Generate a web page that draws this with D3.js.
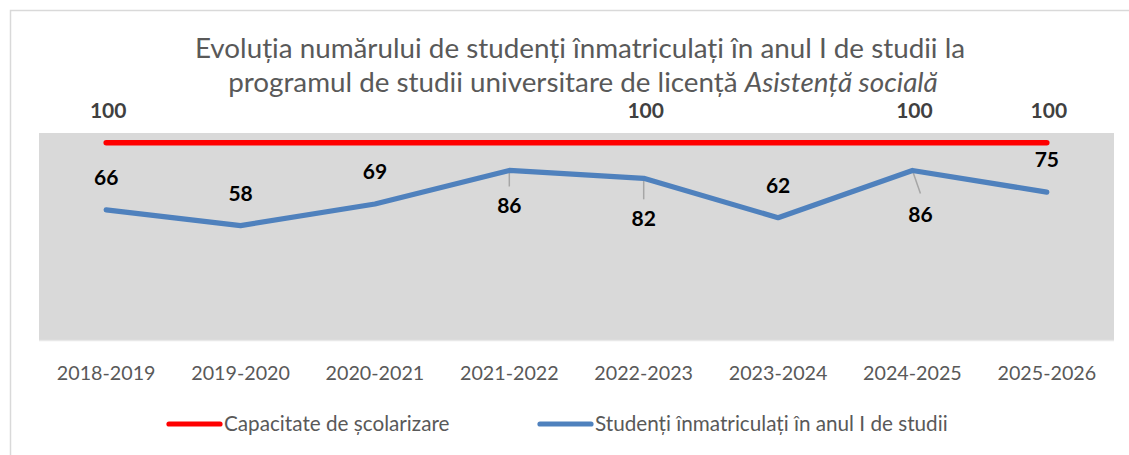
<!DOCTYPE html>
<html>
<head>
<meta charset="utf-8">
<script src="https://cdn.jsdelivr.net/npm/d3@7"></script>
<style>
  body { margin: 0; background: #fff; }
  svg { display: block; font-family: Lato, "Open Sans", sans-serif; }
</style>
</head>
<body>
<div id="chart"></div>
<script>
// Chart data
const years = ["2018-2019", "2019-2020", "2020-2021", "2021-2022", "2022-2023", "2023-2024", "2024-2025", "2025-2026"];
const capacity = [100, 100, 100, 100, 100, 100, 100, 100];
const enrolled = [66, 58, 69, 86, 82, 62, 86, 75];
// which capacity labels Excel shows
const capacityLabelShown = [true, false, false, false, true, false, true, true];
// label placement for enrolled series
const enrolledLabelPos = ["above", "above", "above", "below", "below2", "above", "belowRight", "above"];

const width = 1129, height = 455;
const plot = { left: 39, right: 1114, top: 133, bottom: 340 };

const svg = d3.select("#chart").append("svg")
  .attr("width", width)
  .attr("height", height);

// outer chart border
svg.append("path")
  .attr("d", `M10.5,${height} L10.5,10.5 L${width},10.5`)
  .attr("fill", "none")
  .attr("stroke", "#d9d9d9")
  .attr("stroke-width", 1.5);

// title
const title = svg.append("text")
  .attr("text-anchor", "middle")
  .attr("fill", "#595959")
  .style("font-size", "27.8px");
title.append("tspan").attr("x", 580).attr("y", 58)
  .text("Evoluția numărului de studenți înmatriculați în anul I de studii la");
const t2 = title.append("tspan").attr("x", 583).attr("y", 92);
t2.append("tspan").text("programul de studii universitare de licență ");
t2.append("tspan").style("font-style", "italic").text("Asistență socială");

const x = d3.scaleBand().domain(years).range([plot.left, plot.right]);
const y = d3.scaleLinear().domain([0, 105]).range([plot.bottom, plot.top]);
const cx = (d) => x(d) + x.bandwidth() / 2;

// plot area
svg.append("rect")
  .attr("x", plot.left).attr("y", plot.top)
  .attr("width", plot.right - plot.left).attr("height", plot.bottom - plot.top)
  .attr("fill", "#d9d9d9");

svg.append("line")
  .attr("x1", plot.left).attr("x2", plot.right)
  .attr("y1", plot.bottom + 0.5).attr("y2", plot.bottom + 0.5)
  .attr("stroke", "#e8e8e8").attr("stroke-width", 1.5);

// x axis
const xAxis = svg.append("g")
  .attr("transform", `translate(0,${plot.bottom})`)
  .call(d3.axisBottom(x).tickSize(0).tickPadding(26));
xAxis.select(".domain").remove();
xAxis.selectAll("text")
  .attr("fill", "#595959")
  .style("font-size", "19.7px")
  .style("font-family", "Lato, sans-serif");

const line = d3.line()
  .x((d, i) => cx(years[i]))
  .y((d) => y(d));

// leader lines (drawn under the series)
const leaders = svg.append("g").attr("stroke", "#a6a6a6").attr("stroke-width", 1.5);
enrolled.forEach((v, i) => {
  const pos = enrolledLabelPos[i];
  if (pos === "below" || pos === "below2" || pos === "belowRight") {
    const px = cx(years[i]), py = y(v);
    const len = pos === "below" ? 16 : pos === "below2" ? 21 : 23;
    const dx = pos === "belowRight" ? 8 : 0;
    leaders.append("line")
      .attr("x1", px).attr("y1", py)
      .attr("x2", px + dx).attr("y2", py + len);
  }
});

svg.append("path")
  .datum(capacity)
  .attr("d", line)
  .attr("fill", "none")
  .attr("stroke", "#ff0000")
  .attr("stroke-width", 5.5)
  .attr("stroke-linecap", "round")
  .attr("stroke-linejoin", "round");

svg.append("path")
  .datum(enrolled)
  .attr("d", line)
  .attr("fill", "none")
  .attr("stroke", "#4f81bd")
  .attr("stroke-width", 5.2)
  .attr("stroke-linecap", "round")
  .attr("stroke-linejoin", "round");

// data labels
svg.append("g").selectAll("text")
  .data(capacity.map((v, i) => ({ v, i })).filter((d) => capacityLabelShown[d.i]))
  .join("text")
  .attr("x", (d) => cx(years[d.i]) + 2)
  .attr("y", (d) => y(d.v) - 32)
  .attr("dy", "0.35em")
  .attr("text-anchor", "middle")
  .attr("fill", "#404040")
  .style("font-size", "21px")
  .style("font-weight", "bold")
  .text((d) => d.v);

const labelOffset = {
  above: [0, -32],
  below: [0, 35],
  below2: [0, 40],
  belowRight: [8, 44],
};
svg.append("g").selectAll("text")
  .data(enrolled.map((v, i) => ({ v, i })))
  .join("text")
  .attr("x", (d) => cx(years[d.i]) + labelOffset[enrolledLabelPos[d.i]][0])
  .attr("y", (d) => y(d.v) + labelOffset[enrolledLabelPos[d.i]][1])
  .attr("dy", "0.35em")
  .attr("text-anchor", "middle")
  .attr("fill", "#000")
  .style("font-size", "21px")
  .style("font-weight", "bold")
  .text((d) => d.v);

// legend
const legendItems = [
  { name: "Capacitate de școlarizare", color: "#ff0000", x: 169 },
  { name: "Studenți înmatriculați în anul I de studii", color: "#4f81bd", x: 540 },
];
const legend = svg.append("g").attr("transform", "translate(0,424)");
legendItems.forEach((d) => {
  legend.append("line")
    .attr("x1", d.x).attr("x2", d.x + 51)
    .attr("y1", 0).attr("y2", 0)
    .attr("stroke", d.color)
    .attr("stroke-width", 5.2)
    .attr("stroke-linecap", "round");
  legend.append("text")
    .attr("x", d.x + 55)
    .attr("y", 0)
    .attr("dy", "0.35em")
    .attr("fill", "#595959")
    .style("font-size", "20.7px")
    .text(d.name);
});
</script>
</body>
</html>
